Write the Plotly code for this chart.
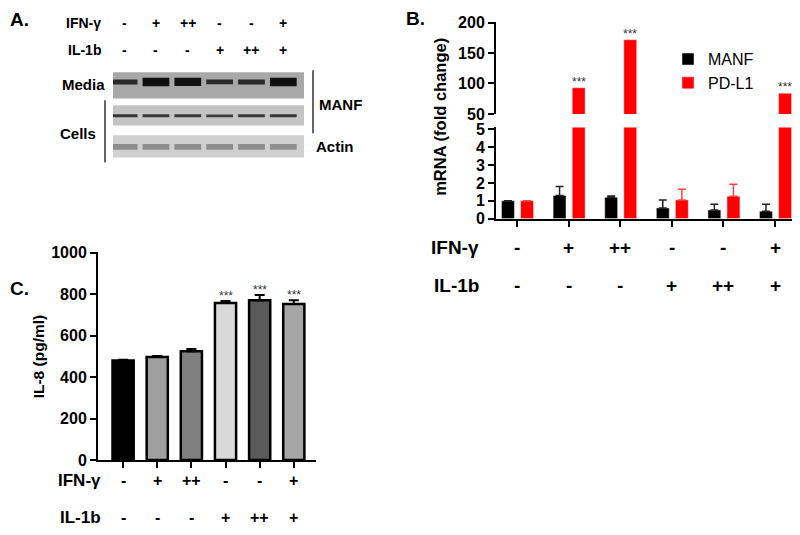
import plotly.graph_objects as go

# The page adds an 8px body margin; the figure is offset by 8px inside the 800x535 window.
M = 8
W, H = 800 - M, 535 - M
def px(x): return min(1.0, max(0.0, (x - M) / W))
def py(y): return min(1.0, max(0.0, 1 - (y - M) / H))

# ---------------- data ----------------
lanes = [0, 1, 2, 3, 4, 5]
ifn_labels = ["-", "+", "++", "-", "-", "+"]
il1b_labels = ["-", "-", "-", "+", "++", "+"]

# Panel A (western blot band intensities, 0..1)
media_int = [0.5, 1.0, 0.95, 0.45, 0.5, 1.0]
cells_int = [0.8, 0.75, 0.75, 0.72, 0.75, 0.78]
actin_int = [0.6, 0.6, 0.6, 0.6, 0.6, 0.58]

# Panel B
manf = [1.0, 1.3, 1.2, 0.6, 0.48, 0.42]
manf_err = [0.0, 0.5, 0.07, 0.45, 0.33, 0.38]
pdl1 = [1.0, 93, 172, 1.05, 1.25, 84]
pdl1_err = [0.0, 0.0, 0.0, 0.6, 0.68, 0.0]
pdl1_sig = ["", "***", "***", "", "", "***"]

# Panel C
il8 = [480, 497, 525, 757, 770, 752]
il8_err = [4, 5, 10, 10, 25, 18]
il8_colors = ["#000000", "#a0a0a0", "#808080", "#d9d9d9", "#5a5a5a", "#a6a6a6"]
il8_sig = ["", "", "", "***", "***", "***"]

FONT = "Liberation Sans, Arial, sans-serif"
NARROW = "Liberation Sans Narrow, Arial Narrow, Liberation Sans, sans-serif"

fig = go.Figure()

# ---------------- Panel B bars ----------------
bw = 0.25
for xa, ya, leg in [("x", "y", True), ("x2", "y2", False)]:
    fig.add_trace(go.Bar(
        x=lanes, y=manf, name="MANF", marker_color="#000000", width=bw, offset=-0.3,
        xaxis=xa, yaxis=ya, showlegend=leg,
        error_y=dict(type="data", symmetric=False, array=manf_err, arrayminus=[0] * 6,
                     color="#222222", thickness=1.5, width=4) if leg else None))
    fig.add_trace(go.Bar(
        x=lanes, y=pdl1, name="PD-L1", marker_color="#ff0000", width=bw, offset=0.07,
        xaxis=xa, yaxis=ya, showlegend=leg,
        error_y=dict(type="data", symmetric=False, array=pdl1_err, arrayminus=[0] * 6,
                     color="#ff4040", thickness=1.5, width=4) if leg else None))

for i, s in enumerate(pdl1_sig):
    if s:
        fig.add_annotation(x=lanes[i] + 0.07 + bw / 2, y=pdl1[i], xref="x2", yref="y2", text=s,
                           showarrow=False, xanchor="center", yanchor="bottom", yshift=-3,
                           font=dict(size=12, color="#333333", family=FONT))

# ---------------- Panel C bars ----------------
fig.add_trace(go.Bar(
    x=lanes, y=il8, marker=dict(color=il8_colors, line=dict(color="#000000", width=2.5)),
    width=0.62, xaxis="x3", yaxis="y3", showlegend=False,
    error_y=dict(type="data", symmetric=False, array=il8_err, arrayminus=[0] * 6,
                 color="#000000", thickness=2, width=5)))
for i, s in enumerate(il8_sig):
    if s:
        fig.add_annotation(x=lanes[i], y=il8[i] + il8_err[i], xref="x3", yref="y3", text=s,
                           showarrow=False, xanchor="center", yanchor="bottom", yshift=-4,
                           font=dict(size=12, color="#333333", family=FONT))

# ---------------- Panel A blot ----------------
# (box top, box bottom, band y, background, intensities, base width, width scale, dark level, light level)
rows = [
    (67, 94, 77, "#a8a8a8", media_int, 1.5, 7, 15, 40),
    (101, 122, 112, "#c4c4c4", cells_int, 2.5, 0.6, 40, 75),
    (132, 155, 144, "#d0d0d0", actin_int, 5, 1.5, 128, 145),
]
for (y0, y1, yb, bg, ints, wbase, wscale, dark, light) in rows:
    fig.add_shape(type="rect", xref="x4", yref="y4", x0=-0.35, x1=5.65, y0=y0, y1=y1,
                  fillcolor=bg, line=dict(width=0), layer="below")
    for i, v in enumerate(ints):
        g = int(dark + (1 - v) * 2 * (light - dark))
        g = max(0, min(255, g))
        fig.add_trace(go.Scatter(
            x=[lanes[i] - 0.42, lanes[i] + 0.42], y=[yb, yb], mode="lines",
            line=dict(color=f"rgb({g},{g},{g})", width=wbase + wscale * v),
            xaxis="x4", yaxis="y4", showlegend=False, hoverinfo="skip"))

# ---------------- axes ----------------
line_common = dict(showline=True, linecolor="#000000", linewidth=2, ticks="outside",
                   tickcolor="#000000", tickwidth=2, ticklen=6, showgrid=False, zeroline=False)
axis_common = dict(line_common, tickfont=dict(family=FONT, size=16, color="#000000", weight="bold"))

# B x-axis: lane centres at 517px, 51.6px apart
bx0, bx1 = 496, 800
b_range = [(bx0 - 517) / 51.6, (bx1 - 517) / 51.6]

fig.update_layout(
    width=W, height=H, margin=dict(l=0, r=0, t=0, b=0),
    paper_bgcolor="white", plot_bgcolor="rgba(0,0,0,0)",
    barmode="overlay",
    xaxis=dict(domain=[px(bx0), px(bx1)], range=b_range, tickvals=lanes,
               showticklabels=False, anchor="y", **line_common),
    yaxis=dict(domain=[py(218), py(124)], range=[0, 5.11], tickvals=[0, 1, 2, 3, 4, 5],
               anchor="x", **axis_common),
    xaxis2=dict(domain=[px(bx0), px(bx1)], range=b_range, visible=False, anchor="y2"),
    yaxis2=dict(domain=[py(110), py(15)], range=[50, 201.5], tickvals=[50, 100, 150, 200],
                anchor="x2", **axis_common),
    xaxis3=dict(domain=[px(98), px(316)], range=[-0.735, 5.65], tickvals=lanes,
                showticklabels=False, anchor="y3", **line_common),
    yaxis3=dict(domain=[py(467), py(252)], range=[0, 1004.7], tickvals=[0, 200, 400, 600, 800, 1000],
                anchor="x3", **axis_common),
    xaxis4=dict(domain=[px(113), px(304)], range=[-0.35, 5.65], visible=False, anchor="y4"),
    yaxis4=dict(domain=[py(160), py(60)], range=[160, 60], visible=False, anchor="x4"),
    legend=dict(x=px(668), y=py(36), xanchor="left", yanchor="top",
                font=dict(family=FONT, size=16, color="#000000"), bgcolor="rgba(0,0,0,0)",
                tracegroupgap=4, itemwidth=30),
)

# ---------------- text ----------------
def txt(x, y, s, size, family=FONT, xanchor="center", textangle=0, weight="bold"):
    fig.add_annotation(x=x, y=y, xref="paper", yref="paper", text=s, showarrow=False,
                       xanchor=xanchor, yanchor="middle", textangle=textangle,
                       font=dict(family=family, size=size, color="#000000", weight=weight))

def sign(xref, lane, y, s, size):
    fig.add_annotation(x=lane, y=y, xref=xref, yref="paper", text=s, showarrow=False,
                       xanchor="center", yanchor="middle",
                       font=dict(family=FONT, size=size, weight="bold", color="#000"))

# panel letters
txt(px(8), py(13), "A.", 19, xanchor="left")
txt(px(404), py(12), "B.", 19, xanchor="left")
txt(px(8), py(290), "C.", 19, xanchor="left")

# Panel A labels
txt(px(103), py(16), "IFN-γ", 14, NARROW, xanchor="right")
txt(px(103), py(44), "IL-1b", 14, NARROW, xanchor="right")
for i in lanes:
    sign("x4", lanes[i], py(16), ifn_labels[i], 14)
    sign("x4", lanes[i], py(44), il1b_labels[i], 14)
txt(px(107), py(80), "Media", 15, NARROW, xanchor="right")
txt(px(98), py(130), "Cells", 15, NARROW, xanchor="right")
txt(px(317), py(100), "MANF", 15, NARROW, xanchor="left")
txt(px(314), py(144), "Actin", 15, NARROW, xanchor="left")
fig.add_shape(type="line", xref="paper", yref="paper", x0=px(105), x1=px(105), y0=py(96), y1=py(160),
              line=dict(color="#333", width=1.5))
fig.add_shape(type="line", xref="paper", yref="paper", x0=px(313), x1=px(313), y0=py(65), y1=py(130),
              line=dict(color="#333", width=1.5))

# Panel B labels
txt(px(440), py(113), "mRNA (fold change)", 16.5, textangle=-90)
txt(px(481), py(248), "IFN-γ", 19, xanchor="right")
txt(px(481), py(287), "IL-1b", 19, xanchor="right")
for i in lanes:
    sign("x", lanes[i], py(248), ifn_labels[i], 19)
    sign("x", lanes[i], py(287), il1b_labels[i], 19)

# Panel C labels
txt(px(38), py(360), "IL-8 (pg/ml)", 15.5, textangle=-90)
txt(px(103), py(488), "IFN-γ", 17, NARROW, xanchor="right")
txt(px(103), py(526), "IL-1b", 17, NARROW, xanchor="right")
for i in lanes:
    sign("x3", lanes[i], py(488), ifn_labels[i], 16)
    sign("x3", lanes[i], py(526), il1b_labels[i], 16)

fig.write_html("out.html")
